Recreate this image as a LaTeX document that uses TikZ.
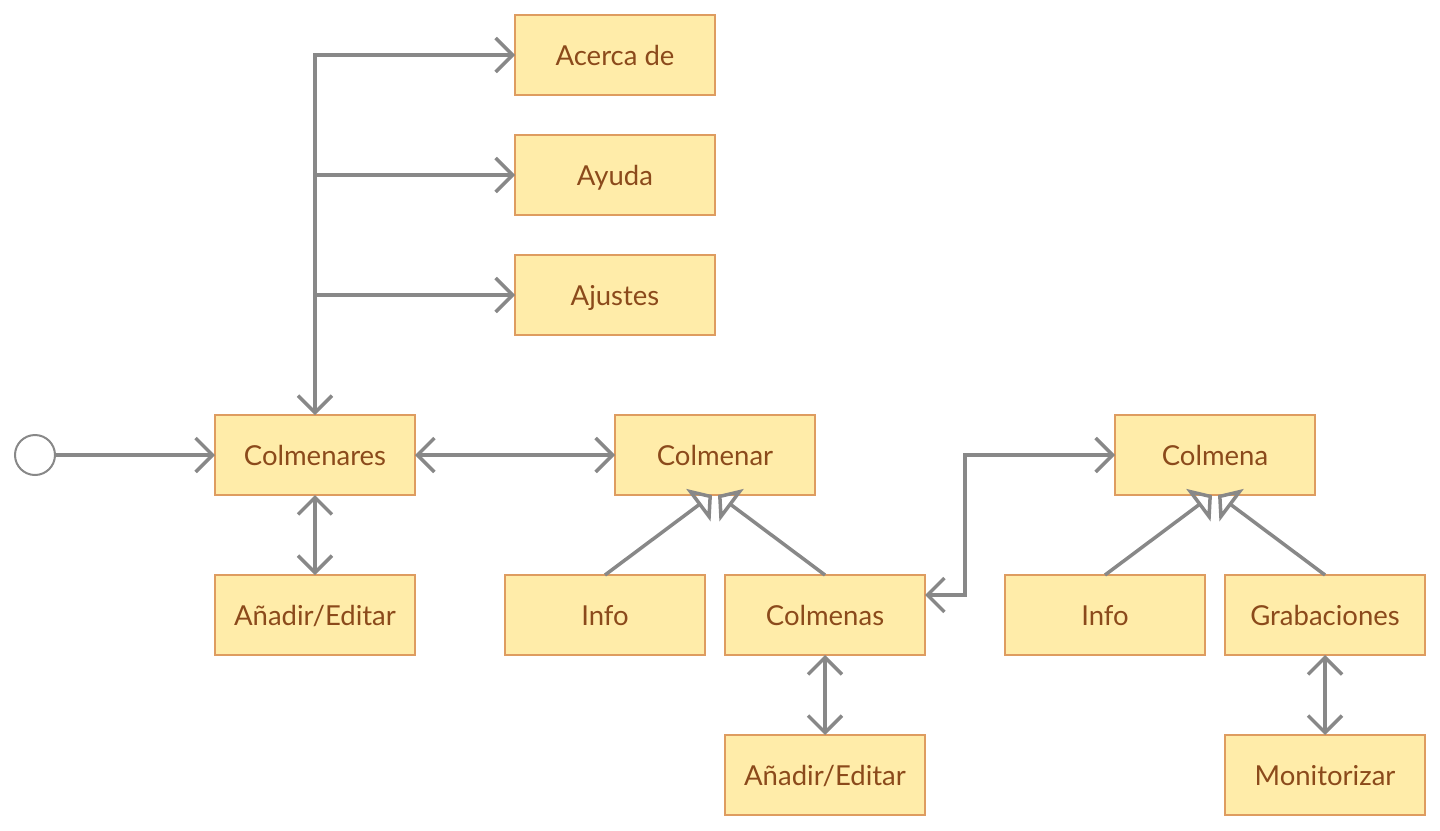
\documentclass[tikz,border=0pt]{standalone}
\usepackage{fontspec}
\setmainfont{Lato}
\usetikzlibrary{positioning,arrows.meta}
\definecolor{boxfill}{HTML}{FFECA9}
\definecolor{boxdraw}{HTML}{DE9C60}
\definecolor{boxtext}{HTML}{8B4A1B}
\definecolor{wire}{HTML}{888888}
\tikzset{
  screen node/.style={
    draw=boxdraw,
    fill=boxfill,
    text=boxtext,
    line width=2pt,
    minimum width=200pt,
    minimum height=80pt,
    inner sep=0pt,
    outer sep=0pt,
    text height=20.5pt,
    text depth=0pt,
    font=\fontsize{27.5pt}{32pt}\selectfont,
  },
  start node/.style={
    circle,
    draw=wire,
    fill=white,
    line width=2pt,
    minimum size=40pt,
    inner sep=0pt,
    outer sep=0pt,
  },
  nav/.style={
    draw=wire,
    line width=3.5pt,
    -{Straight Barb[length=17pt,width=34pt]},
  },
  both nav/.style={
    nav,
    {Straight Barb[length=17pt,width=34pt]}-{Straight Barb[length=17pt,width=34pt]},
  },
  inherit/.style={
    draw=wire,
    line width=3.5pt,
    -{Triangle[open,length=17pt,width=40pt]},
  },
}

\begin{document}
\begin{tikzpicture}
  \useasboundingbox (0pt,0pt) rectangle (1440pt,-830pt);

  % --- Start and list of apiaries ---
  \node[screen node] (colmenares) at (315pt,-455pt) {Colmenares};
  \node[start node, left=160pt of colmenares] (start) {};
  \node[screen node, below=80pt of colmenares] (anadir1) {Añadir/Editar};

  % --- Menu screens ---
  \node[screen node, above=80pt of colmenares, xshift=300pt] (ajustes) {Ajustes};
  \node[screen node, above=40pt of ajustes] (ayuda) {Ayuda};
  \node[screen node, above=40pt of ayuda] (acerca) {Acerca de};

  % --- Apiary ---
  \node[screen node, right=200pt of colmenares] (colmenar) {Colmenar};
  \node[screen node, below=80pt of colmenar, xshift=-110pt] (info1) {Info};
  \node[screen node, below=80pt of colmenar, xshift=110pt] (colmenas) {Colmenas};
  \node[screen node, below=80pt of colmenas] (anadir2) {Añadir/Editar};

  % --- Hive ---
  \node[screen node, right=300pt of colmenar] (colmena) {Colmena};
  \node[screen node, below=80pt of colmena, xshift=-110pt] (info2) {Info};
  \node[screen node, below=80pt of colmena, xshift=110pt] (grabaciones) {Grabaciones};
  \node[screen node, below=80pt of grabaciones] (monitorizar) {Monitorizar};

  % --- Navigation ---
  \draw[nav] (start) -- (colmenares);
  \draw[both nav] (colmenares.north) |- (acerca);
  \draw[nav] (colmenares.north |- ayuda) -- (ayuda);
  \draw[nav] (colmenares.north |- ajustes) -- (ajustes);
  \draw[both nav] (colmenares) -- (colmenar);
  \draw[both nav] (colmenares) -- (anadir1);
  \draw[both nav] ([yshift=20pt]colmenas.east) -- ++(40pt,0) |- (colmena);
  \draw[both nav] (colmenas) -- (anadir2);
  \draw[both nav] (grabaciones) -- (monitorizar);

  % --- Tabs ---
  \draw[inherit] (info1.north) -- ([xshift=-3pt]colmenar.south);
  \draw[inherit] (colmenas.north) -- ([xshift=3pt]colmenar.south);
  \draw[inherit] (info2.north) -- ([xshift=-3pt]colmena.south);
  \draw[inherit] (grabaciones.north) -- ([xshift=3pt]colmena.south);

\end{tikzpicture}
\end{document}
